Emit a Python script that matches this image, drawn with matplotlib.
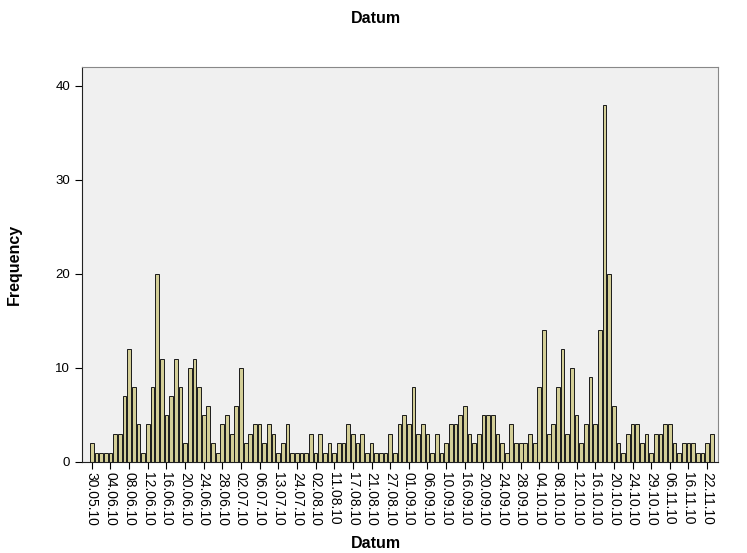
import matplotlib
matplotlib.use("Agg")
import matplotlib.pyplot as plt

plt.rcParams['font.family'] = ['Liberation Sans', 'DejaVu Sans']

# counts per day (one bar per distinct date)
counts = [2, 1, 1, 1, 1, 3, 3, 7, 12, 8,
          4, 1, 4, 8, 20, 11, 5, 7, 11, 8,
          2, 10, 11, 8, 5, 6, 2, 1, 4, 5,
          3, 6, 10, 2, 3, 4, 4, 2, 4, 3,
          1, 2, 4, 1, 1, 1, 1, 3, 1, 3,
          1, 2, 1, 2, 2, 4, 3, 2, 3, 1,
          2, 1, 1, 1, 3, 1, 4, 5, 4, 8,
          3, 4, 3, 1, 3, 1, 2, 4, 4, 5,
          6, 3, 2, 3, 5, 5, 5, 3, 2, 1,
          4, 2, 2, 2, 3, 2, 8, 14, 3, 4,
          8, 12, 3, 10, 5, 2, 4, 9, 4, 14,
          38, 20, 6, 2, 1, 3, 4, 4, 2, 3,
          1, 3, 3, 4, 4, 2, 1, 2, 2, 2,
          1, 1, 2, 3]

# every 4th date is labelled
date_labels = ['30.05.10', '04.06.10', '08.06.10', '12.06.10', '16.06.10',
               '20.06.10', '24.06.10', '28.06.10', '02.07.10', '06.07.10',
               '13.07.10', '24.07.10', '02.08.10', '11.08.10', '17.08.10',
               '21.08.10', '27.08.10', '01.09.10', '06.09.10', '10.09.10',
               '16.09.10', '20.09.10', '24.09.10', '28.09.10', '04.10.10',
               '08.10.10', '12.10.10', '16.10.10', '20.10.10', '24.10.10',
               '29.10.10', '06.11.10', '16.11.10', '22.11.10']
label_step = 4

fig = plt.figure(figsize=(7.47, 5.53), dpi=100)
ax = fig.add_axes([0.1098, 0.1646, 0.8512, 0.7142])
ax.set_facecolor('#F0F0F0')

x = list(range(len(counts)))
ax.bar(x, counts, width=0.8, color='#D3CE97', edgecolor='#1a1a1a', linewidth=0.7)

ax.set_xlim(-2.1, len(counts) + 0.3)
ax.set_ylim(0, 42)
ax.set_yticks([0, 10, 20, 30, 40])
ax.set_xticks(x[::label_step])
ax.set_xticklabels(date_labels, rotation=270, fontsize=10)
ax.tick_params(axis='y', labelsize=9.5, length=5, width=0.8, direction='out')
ax.tick_params(axis='x', length=5, width=0.8, direction='out', pad=2)

for s in ['top', 'right']:
    ax.spines[s].set_color('#888888')
    ax.spines[s].set_linewidth(0.8)
for s in ['left', 'bottom']:
    ax.spines[s].set_color('#222222')
    ax.spines[s].set_linewidth(0.8)

ax.set_ylabel('Frequency', fontsize=11.5, fontweight='bold', labelpad=24)
fig.text(0.503, 0.003, 'Datum', fontsize=11.5, fontweight='bold', ha='center', va='bottom')
fig.text(0.503, 0.967, 'Datum', fontsize=11.5, fontweight='bold', ha='center', va='center')

fig.savefig('out.png', dpi=100, facecolor='white')
